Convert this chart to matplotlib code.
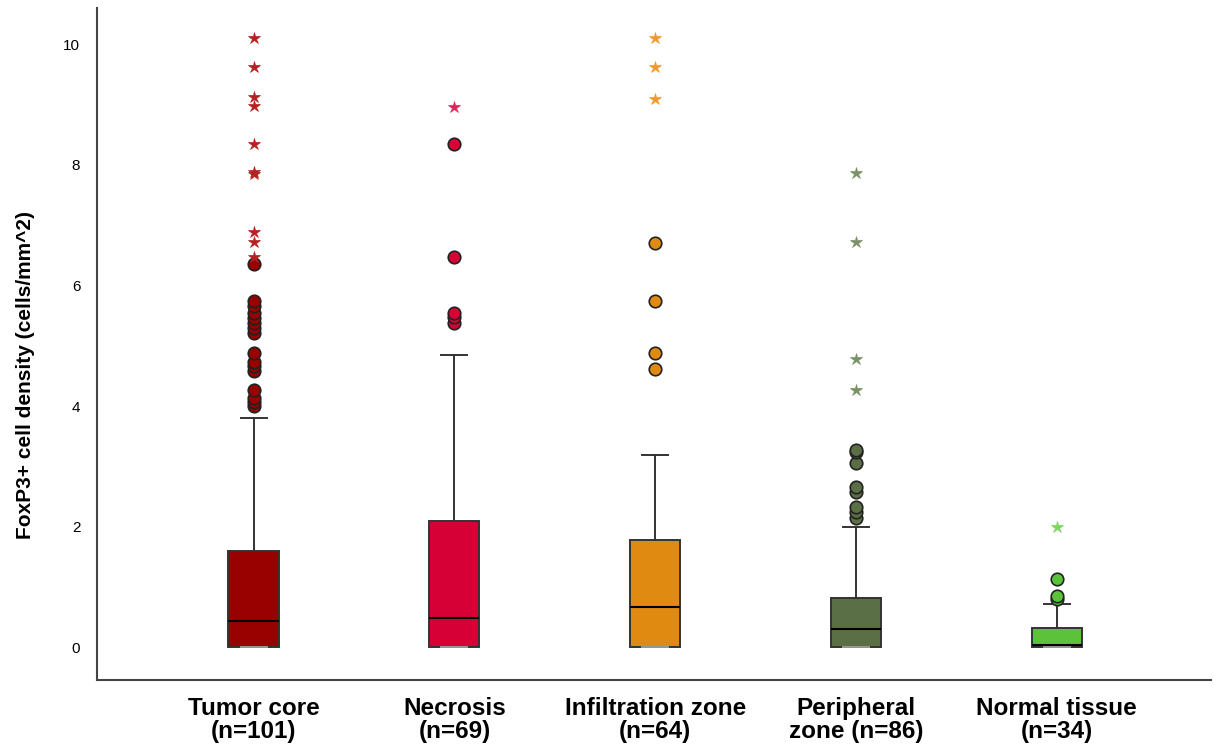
import matplotlib
matplotlib.use("Agg")
import matplotlib.pyplot as plt

plt.rcParams['font.family'] = ['Liberation Sans', 'DejaVu Sans']

categories = ["Tumor core\n(n=101)", "Necrosis\n(n=69)", "Infiltration zone\n(n=64)",
              "Peripheral\nzone (n=86)", "Normal tissue\n(n=34)"]
q1 = [0, 0, 0, 0, 0]
medians = [0.43, 0.48, 0.66, 0.30, 0.04]
q3 = [1.60, 2.10, 1.78, 0.82, 0.32]
whislo = [0, 0, 0, 0, 0]
whishi = [3.80, 4.84, 3.18, 2.00, 0.71]
outliers_circle = [
    [4.00, 4.06, 4.13, 4.26, 4.59, 4.66, 4.73, 4.88, 5.22, 5.30, 5.38, 5.46, 5.55, 5.66, 5.75, 6.35],
    [5.37, 5.47, 5.55, 6.47, 8.34],
    [4.61, 4.88, 5.75, 6.70],
    [2.14, 2.25, 2.32, 2.58, 2.65, 3.05, 3.23, 3.27],
    [0.80, 0.85, 1.13],
]
outliers_star = [
    [6.48, 6.72, 6.88, 7.85, 7.88, 8.34, 8.97, 9.12, 9.62, 10.10],
    [8.96],
    [9.10, 9.62, 10.10],
    [4.26, 4.78, 6.72, 7.86],
    [2.00],
]
box_colors = ["#990000", "#D70036", "#E08A12", "#5A6F45", "#5CC23A"]
star_colors = ["#B22222", "#E0245A", "#EE9A2E", "#7A9065", "#7ED65E"]

fig = plt.figure(figsize=(12.18, 7.46), dpi=100)
ax = fig.add_axes([0.0796, 0.088, 0.915, 0.901])

positions = list(range(1, len(categories) + 1))
stats = []
for i in range(len(categories)):
    stats.append(dict(med=medians[i], q1=q1[i], q3=q3[i], whislo=whislo[i],
                      whishi=whishi[i], fliers=[]))

bp = ax.bxp(stats, positions=positions, widths=0.25, patch_artist=True,
            showfliers=False, capwidths=0.13,
            medianprops=dict(color="black", linewidth=1.5),
            whiskerprops=dict(color="#333333", linewidth=1.4),
            capprops=dict(color="#333333", linewidth=1.4),
            boxprops=dict(edgecolor="#333333", linewidth=1.4))
for patch, c in zip(bp['boxes'], box_colors):
    patch.set_facecolor(c)
for i, cap in enumerate(bp['caps']):
    if i % 2 == 0:
        cap.set_color("#999999")

for i, pos in enumerate(positions):
    ys = outliers_circle[i]
    ax.plot([pos] * len(ys), ys, linestyle="none", marker="o", markersize=9,
            markerfacecolor=box_colors[i], markeredgecolor="#222222",
            markeredgewidth=1.2, zorder=4)
    ys = outliers_star[i]
    ax.plot([pos] * len(ys), ys, linestyle="none", marker="*", markersize=9,
            markerfacecolor=star_colors[i], markeredgecolor=star_colors[i],
            markeredgewidth=0.5, zorder=4)

ax.set_xlim(0.22, 5.77)
ax.set_ylim(-0.55, 10.6)
ax.set_yticks([0, 2, 4, 6, 8, 10])
ax.set_yticklabels(["0", "2", "4", "6", "8", "10"], fontsize=11)
ax.set_xticks(positions)
ax.set_xticklabels(categories, fontsize=17.5, fontweight="bold", linespacing=1.0)
ax.tick_params(axis="both", length=0, pad=12)
ax.tick_params(axis="x", pad=12)
ax.set_ylabel("FoxP3+ cell density (cells/mm^2)", fontsize=15, fontweight="bold")
ax.yaxis.set_label_coords(-0.056, 0.455)

for s in ["top", "right"]:
    ax.spines[s].set_visible(False)
for s in ["left", "bottom"]:
    ax.spines[s].set_color("#444444")
    ax.spines[s].set_linewidth(1.5)

fig.savefig("out.png", dpi=100)
